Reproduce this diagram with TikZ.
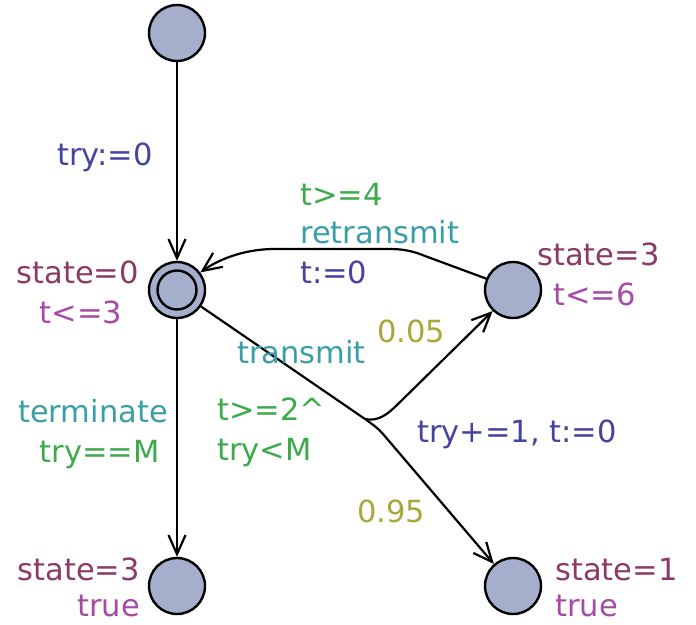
\documentclass[tikz,border=0pt]{standalone}
\usepackage{fontspec}
\setmainfont{DejaVu Sans}
\usetikzlibrary{arrows.meta}
\definecolor{locfill}{HTML}{A5AECB}
\definecolor{cname}{HTML}{8B3A66}
\definecolor{cinv}{HTML}{A64AA6}
\definecolor{csync}{HTML}{3A9EA8}
\definecolor{cguard}{HTML}{3AAA4A}
\definecolor{cupd}{HTML}{4444A0}
\definecolor{cprob}{HTML}{A8A83A}
\begin{document}
\begin{tikzpicture}[x=1pt,y=-1pt,
  loc/.style={circle,draw=black,line width=2.4pt,fill=locfill,minimum size=56pt,inner sep=0pt},
  edge/.style={line width=2.2pt,draw=black},
  arr/.style={-{Straight Barb[length=19pt,width=17pt,line width=2.2pt]}},
  lab/.style={font=\fontsize{30.5}{36}\selectfont,inner sep=0pt}]
\useasboundingbox (0,0) rectangle (696,624);
% locations
\node[loc] (top) at (177,33) {};
\node[loc] (main) at (177,290) {};
\node[circle,draw=black,line width=2.4pt,minimum size=39pt,inner sep=0pt] (maininner) at (177,290) {};
\node[loc] (s3) at (513,290) {};
\node[loc] (bl) at (177,586) {};
\node[loc] (br) at (513,586) {};
\coordinate (bp) at (365,419);
% edges
\draw[edge,arr] (top) -- (main);
\draw[edge,arr] (main) -- (bl);
\draw[edge,arr] (s3.157) -- (425,256) .. controls (408,249) and (398,249) .. (385,249) -- (275,249) .. controls (240,249) and (215,262) .. (main.37);
\draw[edge] (main) -- (bp);
\draw[edge,arr] (bp) .. controls (378,422) and (388,414) .. (398,404) -- (s3.226);
\draw[edge,arr] (bp) .. controls (372,424) and (378,428) .. (383,434) -- (br.131);
% labels
\node[lab,cupd,anchor=base west] (l1) at (57,165) {try:=0};
\node[lab,cname,anchor=base east] (n0) at (139,283) {state=0};
\node[lab,cinv,anchor=base] (i0) at (81,323) {t<=3};
\node[lab,cguard,anchor=base west] (g4) at (300,205) {t>=4};
\node[lab,csync,anchor=base west] (rt) at (300,243) {retransmit};
\node[lab,cupd,anchor=base west] (u4) at (300,283) {t:=0};
\node[lab,cname,anchor=base west] (n3) at (537,265) {state=3};
\node[lab,cinv,anchor=base west] (i3) at (553,305) {t<=6};
\node[lab,cprob,anchor=base west] (p1) at (377,342) {0.05};
\node[lab,csync,anchor=base west] (tr) at (237,363) {transmit};
\node[lab,cguard,anchor=base west] (g2a) at (217,420) {t>=2\textasciicircum};
\node[lab,cguard,anchor=base west] (g2b) at (217,460) {try<M};
\node[lab,cupd,anchor=base west] (u2) at (417,442) {try+=1, t:=0};
\node[lab,cprob,anchor=base west] (p2) at (357,522) {0.95};
\node[lab,csync,anchor=base east] (tm) at (168,422) {terminate};
\node[lab,cguard,anchor=base east] (gm) at (160,462) {try==M};
\node[lab,cname,anchor=base east] (nb) at (140,580) {state=3};
\node[lab,cinv,anchor=base east] (ib) at (140,616) {true};
\node[lab,cname,anchor=base west] (n1) at (555,580) {state=1};
\node[lab,cinv,anchor=base west] (i1) at (555,616) {true};
\end{tikzpicture}
\end{document}
